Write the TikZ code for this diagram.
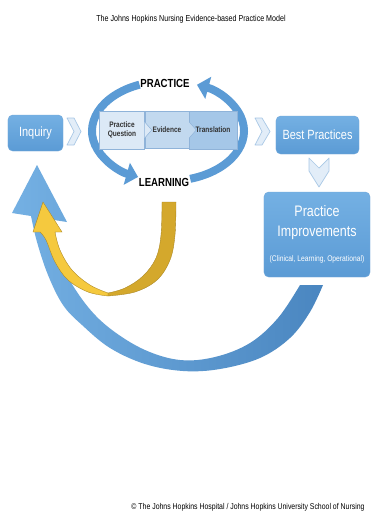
\documentclass[tikz,border=0pt]{standalone}
\usepackage{fontspec}
\setmainfont{Liberation Sans}[FakeStretch=0.82]
\usepackage{tikz}
\usetikzlibrary{arrows.meta, calc, shapes}
\definecolor{jhblue}{HTML}{5B9BD5}
\definecolor{jhlight}{HTML}{74B0E3}
\definecolor{jhdark}{HTML}{4A86C0}
\definecolor{chevfill}{HTML}{E2EDF8}
\definecolor{chevline}{HTML}{A9C8E6}
\definecolor{pqfill}{HTML}{DCE9F6}
\definecolor{evfill}{HTML}{C2D9EF}
\definecolor{trfill}{HTML}{A5C7E8}
\definecolor{stepline}{HTML}{8FB3D9}
\definecolor{goldlight}{HTML}{F5C93E}
\definecolor{golddark}{HTML}{D4A82C}

\begin{document}
\begin{tikzpicture}[x=0.03cm, y=-0.03cm,
    stagebox/.style={rectangle, 
      rounded corners=4pt, 
      top color=jhlight, 
      bottom color=jhblue, 
      draw=jhblue!85!white, 
      text=white, 
      align=center, 
      inner sep=0pt},
    stepbox/.style={rectangle, 
      draw=stepline, 
      align=center, 
      inner sep=0pt, 
      minimum height=1.15cm, 
      font=\fontsize{6.8}{8.2}\selectfont\bfseries, 
      text=black!80},
    loopband/.style={draw=jhblue, 
      line width=6.8pt, 
      -{Triangle[width=19pt,length=10pt]}},
    chevron/.style={fill=chevfill, 
      draw=chevline, 
      line width=0.6pt, 
      line join=round},
    looplabel/.style={font=\fontsize{10}{12}\selectfont\bfseries, 
      inner sep=1pt}]

  \fill[white] (0,0) rectangle (372,524);
  \useasboundingbox (0,0) rectangle (372,524);

% TEXTS

  \node (title) at (191,19) {\fontsize{7.4}{9}\selectfont The Johns Hopkins Nursing Evidence-based Practice Model};
  \node (footer) at (248,507) {\fontsize{7.2}{9}\selectfont \textcopyright{} The Johns Hopkins Hospital / Johns Hopkins University School of Nursing};

% BIG RETURN ARROWS

  \shade[left color=jhlight, right color=jhdark] 
    plot[smooth, tension=0.6] coordinates {(323,285) (310,312) (290,338) (260,358) (220,369) 
      (183,371) (145,364) (110,348) (82,325) (63,305) (48,275) (37,242) (31,216)} 
    -- (12,213) -- (37,165) -- (67,222) 
    -- plot[smooth, tension=0.6] coordinates {(54,220) (57,245) (67,275) (88,307) (112,330) 
      (145,350) (180,360) (215,357) (250,343) (278,318) (300,285)} 
    -- cycle;

  \fill[golddark, draw=golddark!80!black, line width=0.3pt] 
    plot[smooth, tension=0.6] coordinates {(176,202) (175,235) (170,260) (157,280) (135,292) (108,296)} 
    -- plot[smooth, tension=0.6] coordinates {(108,293) (125,288) (143,276) (156,258) (161,235) (162,202)} 
    -- cycle;

  \fill[goldlight, draw=golddark!80!black, line width=0.3pt] 
    plot[smooth, tension=0.6] coordinates {(108,296) (88,292) (68,280) (55,262) (46,240) (40,232)} 
    -- (33,232) -- (43,202) -- (62,232) 
    -- plot[smooth, tension=0.6] coordinates {(55,232) (60,250) (72,270) (90,285) (108,293)} 
    -- cycle;

% PRACTICE / LEARNING CYCLE

  \coordinate (loopc) at (168,131);
  \draw[loopband] ([shift={(-112:76 and 50)}]loopc) 
    arc[start angle=-112, end angle=-246.8, x radius=76, y radius=50];
  \draw[loopband] ([shift={(-287:76 and 50)}]loopc) 
    arc[start angle=-287, end angle=-427.6, x radius=76, y radius=50];

  \node[looplabel] (practice) at (165,83) {PRACTICE};
  \node[looplabel] (learning) at (164,182) {LEARNING};

% STEPS

  \node[stepbox, minimum width=1.35cm, fill=pqfill] (question) at (122,130) {Practice\\Question};
  \node[stepbox, minimum width=1.32cm, minimum height=1.1cm, fill=evfill] (evidence) at (167,130) {Evidence};
  \node[stepbox, minimum width=1.44cm, fill=trfill] (translation) at (213,130) {Translation};

  \fill[pqfill] ($(question.east)+(0,-8)$) -- ($(question.east)+(7,0)$) -- ($(question.east)+(0,8)$) -- cycle;
  \draw[stepline] ($(question.east)+(0,-8)$) -- ($(question.east)+(7,0)$) -- ($(question.east)+(0,8)$);
  \fill[evfill] ($(evidence.east)+(0,-8)$) -- ($(evidence.east)+(7,0)$) -- ($(evidence.east)+(0,8)$) -- cycle;
  \draw[stepline] ($(evidence.east)+(0,-8)$) -- ($(evidence.east)+(7,0)$) -- ($(evidence.east)+(0,8)$);

% STAGES

  \node[stagebox, minimum width=1.65cm, minimum height=1.08cm, 
    font=\fontsize{11.4}{13}\selectfont] (inquiry) at (35.5,133) {Inquiry};
  \node[stagebox, minimum width=2.49cm, minimum height=1.14cm, 
    font=\fontsize{11.4}{13}\selectfont] (best) at (317.5,135) {Best Practices};
  \node[stagebox, minimum width=3.18cm, minimum height=2.55cm, 
    font=\fontsize{13}{17}\selectfont] (improve) at (317,234.5) 
    {Practice\\Improvements\\[4pt]{\fontsize{7}{8}\selectfont (Clinical, Learning, Operational)}};

% CHEVRONS

  \draw[chevron] (67,118) -- (74,118) -- (81,131.5) -- (74,145) -- (67,145) -- (74,131.5) -- cycle;
  \draw[chevron] (255,118) -- (262,118) -- (270,131.5) -- (262,145) -- (255,145) -- (262,131.5) -- cycle;
  \draw[chevron] (309,158) -- (319,168) -- (329,158) -- (329,171) -- (319,187) -- (309,171) -- cycle;

\end{tikzpicture}
\end{document}
